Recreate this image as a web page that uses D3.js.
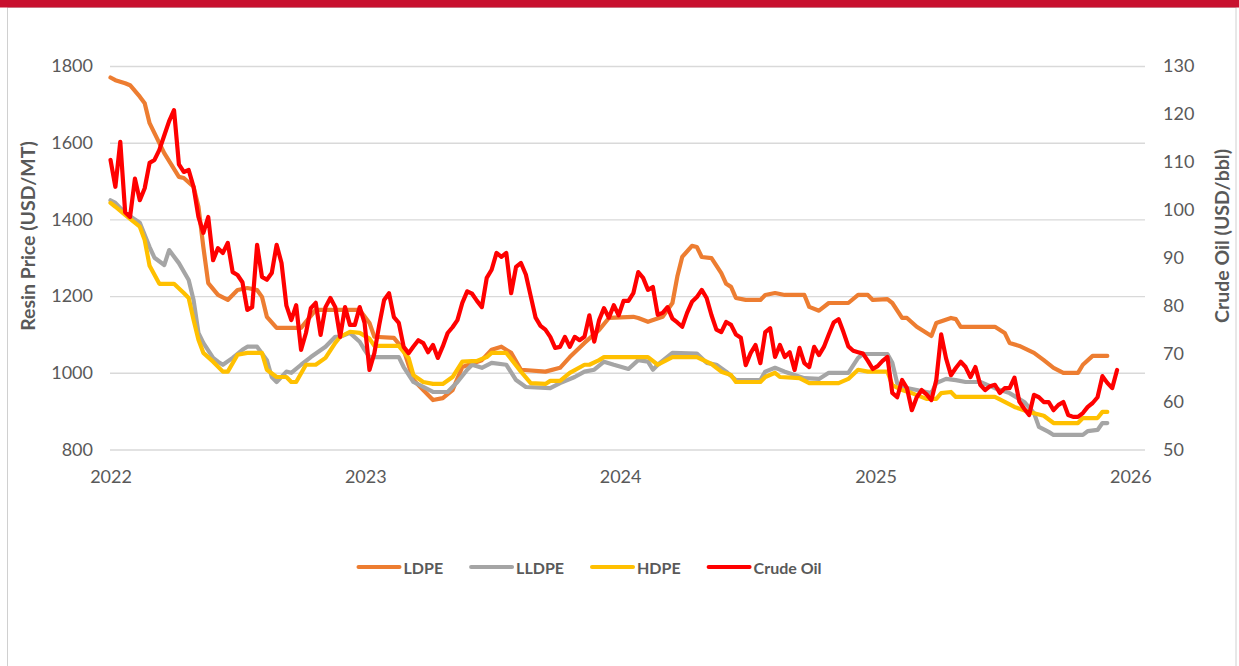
<!DOCTYPE html>
<html>
<head>
<meta charset="utf-8">
<script src="https://cdn.jsdelivr.net/npm/d3@7"></script>
<style>
    body { margin: 0; background: #fff; }
    svg { display: block; font-family: Lato, "Open Sans", sans-serif; }
</style>
</head>
<body>
<svg width="1239" height="666"></svg>
<script>
// weekly data, week 0 = first week of 2022
// resin prices (USD/MT) as [week, price]
var ldpe = [[0,1770],[1,1763],[2,1759],[3,1755],[4,1750],[6,1720],[7,1703],[8,1651],[9,1625],[11,1573],
    [14,1511],[15,1508],[17,1485],[18,1433],[19,1328],[20,1234],[22,1203],[24,1190],[26,1216],[28,1221],
    [30,1216],[31,1198],[32,1146],[34,1117],[39,1117],[42,1164],[47,1164],[51,1164],[53,1130],[54,1094],
    [58,1091],[60,1060],[62,981],[66,929],[68,934],[70,955],[72,1015],[76,1033],[78,1060],[80,1068],
    [82,1052],[84,1008],[89,1003],[92,1013],[94,1041],[97,1078],[100,1112],[102,1143],[107,1146],[108,1143],
    [110,1133],[113,1146],[115,1182],[116,1251],[117,1302],[119,1331],[120,1328],[121,1302],[123,1299],[125,1260],
    [126,1232],[127,1224],[128,1195],[130,1190],[133,1190],[134,1203],[136,1208],[138,1203],[142,1203],[143,1172],
    [145,1162],[147,1182],[151,1182],[153,1203],[155,1203],[156,1190],[159,1192],[160,1182],[162,1143],[163,1143],
    [165,1120],[168,1096],[169,1130],[172,1143],[173,1140],[174,1120],[181,1120],[183,1104],[184,1078],[186,1070],
    [189,1052],[191,1033],[193,1013],[195,1000],[198,1000],[199,1021],[201,1044],[204,1044]];

var lldpe = [[0,1450],[1,1443],[3,1417],[6,1391],[8,1328],[9,1300],[11,1281],[12,1320],[14,1286],[16,1242],
    [17,1190],[18,1104],[19,1078],[21,1039],[22,1029],[23,1021],[25,1039],[27,1060],[28,1068],[30,1068],
    [32,1033],[33,989],[34,976],[36,1003],[37,1000],[39,1021],[41,1041],[44,1068],[46,1094],[47,1094],
    [49,1104],[51,1081],[52,1060],[53,1041],[59,1041],[60,1015],[62,976],[64,963],[66,950],[69,950],
    [71,976],[73,1008],[74,1021],[76,1013],[78,1026],[81,1021],[83,981],[85,963],[90,960],[92,973],
    [95,989],[97,1003],[99,1008],[101,1029],[103,1021],[106,1010],[108,1033],[110,1029],[111,1008],[112,1021],
    [115,1052],[120,1050],[122,1026],[124,1021],[126,1003],[128,981],[133,981],[134,1003],[136,1013],[138,1003],
    [142,986],[145,984],[147,1000],[151,1000],[153,1039],[154,1049],[159,1049],[160,1026],[161,973],[163,960],
    [165,955],[168,947],[169,973],[171,984],[173,981],[175,976],[178,976],[181,960],[184,947],[187,924],
    [189,895],[190,859],[192,846],[193,838],[199,838],[200,848],[202,851],[203,869],[204,869]];

var hdpe = [[0,1443],[1,1433],[3,1412],[6,1381],[7,1346],[8,1279],[10,1232],[13,1232],[15,1208],[16,1195],
    [17,1138],[18,1086],[19,1052],[21,1029],[23,1003],[24,1003],[26,1047],[28,1052],[31,1052],[32,1008],
    [34,989],[36,989],[37,976],[38,976],[40,1021],[42,1021],[44,1039],[46,1078],[47,1094],[49,1107],
    [51,1104],[53,1089],[54,1070],[59,1070],[61,1039],[62,994],[64,976],[66,971],[68,971],[70,989],
    [72,1029],[75,1031],[77,1041],[78,1052],[81,1052],[84,1003],[86,973],[89,971],[90,979],[92,979],
    [94,1000],[97,1021],[98,1021],[100,1033],[101,1041],[110,1041],[112,1021],[115,1041],[120,1041],[123,1023],
    [125,1003],[127,994],[128,976],[133,976],[134,989],[136,1000],[137,989],[141,986],[143,973],[149,973],
    [151,984],[153,1008],[155,1003],[159,1003],[160,968],[162,955],[164,947],[167,932],[169,932],[170,947],
    [172,950],[173,937],[181,937],[183,924],[185,911],[188,898],[191,888],[193,869],[198,869],[199,882],
    [202,882],[203,898],[204,898]];

// crude oil (USD/bbl), one value per week from week 0
var crudeOil = [110.4,104.8,114.2,99.5,98.5,106.5,102.0,104.5,109.8,110.4,
    112.5,115.5,118.5,120.8,109.5,107.9,108.3,104.8,98.5,95.2,
    98.5,89.5,92.0,91.0,93.1,87.0,86.4,84.9,79.1,79.7,
    92.7,86.0,85.4,86.8,92.7,88.9,80.0,77.0,80.1,70.8,
    74.3,79.5,80.6,73.9,79.7,81.6,79.7,73.5,79.7,76.0,
    76.0,79.7,76.4,66.6,70.1,76.0,81.2,82.6,77.6,76.4,
    71.4,70.1,71.5,72.8,72.2,70.3,71.8,69.1,71.5,74.3,
    75.5,77.0,80.6,83.0,82.5,81.0,79.7,85.8,87.5,91.0,
    90.2,91.0,82.6,88.1,88.9,86.5,82.0,77.5,75.8,75.0,
    73.5,71.2,71.4,73.5,71.4,73.5,72.8,73.5,78.0,72.5,
    77.0,79.5,77.5,80.1,78.0,81.0,81.0,82.6,87.0,85.8,
    83.3,83.9,78.1,78.5,79.7,77.3,76.5,75.6,78.5,80.8,
    81.8,83.3,81.6,78.0,75.0,74.5,76.6,76.0,74.0,73.3,
    67.6,70.1,71.8,68.0,74.5,75.3,69.3,71.8,69.3,70.3,
    66.6,71.2,68.0,67.2,71.4,69.7,71.4,74.0,76.5,77.2,
    74.5,71.5,70.6,70.3,70.0,68.5,66.8,67.4,68.5,69.3,
    61.8,60.9,64.5,62.8,58.2,60.9,62.4,61.5,60.3,64.5,
    74.0,69.0,65.5,67.0,68.3,67.2,65.1,67.2,63.5,62.4,
    63.2,63.5,61.8,62.8,62.8,65.0,60.0,58.5,57.2,61.4,
    60.9,59.9,59.9,58.2,59.3,59.9,57.2,56.8,56.8,57.6,
    58.9,59.7,60.9,65.3,63.9,62.8,66.6];

var leftTicks = [800, 1000, 1200, 1400, 1600, 1800];
var rightTicks = [50, 60, 70, 80, 90, 100, 110, 120, 130];
var yearTicks = [2022, 2023, 2024, 2025, 2026];

var seriesNames = ["LDPE", "LLDPE", "HDPE", "Crude Oil"];
var seriesColors = ["#ED7D31", "#A5A5A5", "#FFC000", "#FF0000"];

var textColor = "#595959";
var start = new Date(2022, 0, 1);
function weekDate(w) { return d3.timeDay.offset(start, w * 7); }

var svg = d3.select("svg");

// frame + red header bar
svg.append("rect").attr("x", 7.5).attr("y", 7.5).attr("width", 1228.5).attr("height", 670)
    .attr("fill", "#fff").attr("stroke", "#d0d0d0").attr("stroke-width", 1);
svg.append("rect").attr("x", 0).attr("y", 0).attr("width", 1239).attr("height", 7.5)
    .attr("fill", "#C8102E");

var x = d3.scaleTime()
    .domain([start, new Date(2026, 0, 22)])
    .range([110.5, 1145]);
var yLeft = d3.scaleLinear().domain([800, 1800]).range([449.5, 66]);
var yRight = d3.scaleLinear().domain([50, 130]).range([449.5, 66]);

// left axis with gridlines
var gLeft = svg.append("g")
    .attr("transform", "translate(110,0)")
    .call(d3.axisLeft(yLeft).tickValues(leftTicks).tickFormat(d3.format("d"))
        .tickSize(-1035).tickPadding(17));
gLeft.select(".domain").remove();
gLeft.selectAll("line").attr("stroke", "#d9d9d9").attr("stroke-width", 1.4);

// right axis
var gRight = svg.append("g")
    .attr("transform", "translate(1145,0)")
    .call(d3.axisRight(yRight).tickValues(rightTicks).tickSize(0).tickPadding(18));
gRight.select(".domain").remove();

// x axis
var gBottom = svg.append("g")
    .attr("transform", "translate(0,449.5)")
    .call(d3.axisBottom(x)
        .tickValues(yearTicks.map(function (yr) { return new Date(yr, 0, 1); }))
        .tickFormat(d3.timeFormat("%Y"))
        .tickSize(0).tickPadding(21));
gBottom.select(".domain").remove();

svg.selectAll(".tick text")
    .attr("fill", textColor)
    .attr("font-size", "18px")
    .attr("font-family", "Lato, sans-serif");

// axis titles
svg.append("text")
    .attr("transform", "translate(27,236) rotate(-90)")
    .attr("text-anchor", "middle")
    .attr("dominant-baseline", "central")
    .attr("font-size", "19.5px").attr("font-weight", "bold")
    .attr("fill", textColor)
    .text("Resin Price (USD/MT)");
svg.append("text")
    .attr("transform", "translate(1221,236) rotate(-90)")
    .attr("text-anchor", "middle")
    .attr("dominant-baseline", "central")
    .attr("font-size", "19.5px").attr("font-weight", "bold")
    .attr("fill", textColor)
    .text("Crude Oil (USD/bbl)");

// lines
var resinLine = d3.line()
    .x(function (d) { return x(weekDate(d[0])); })
    .y(function (d) { return yLeft(d[1]); });
var oilLine = d3.line()
    .x(function (d, i) { return x(weekDate(i)); })
    .y(function (d) { return yRight(d); });

var plot = svg.append("g");
[ldpe, lldpe, hdpe].forEach(function (s, i) {
    plot.append("path")
        .datum(s)
        .attr("d", resinLine)
        .attr("fill", "none")
        .attr("stroke", seriesColors[i])
        .attr("stroke-width", 4.2)
        .attr("stroke-linejoin", "round")
        .attr("stroke-linecap", "round");
});
plot.append("path")
    .datum(crudeOil)
    .attr("d", oilLine)
    .attr("fill", "none")
    .attr("stroke", seriesColors[3])
    .attr("stroke-width", 4.2)
    .attr("stroke-linejoin", "round")
    .attr("stroke-linecap", "round");

// legend
var legend = svg.append("g").attr("transform", "translate(0,567)");
var items = legend.selectAll("g.item")
    .data(seriesNames)
    .enter()
    .append("g")
    .attr("class", "item");
items.append("line")
    .attr("x1", 0).attr("x2", 41).attr("y1", 0).attr("y2", 0)
    .attr("stroke", function (d, i) { return seriesColors[i]; })
    .attr("stroke-width", 4)
    .attr("stroke-linecap", "round");
items.append("text")
    .attr("x", 45)
    .attr("dominant-baseline", "central")
    .attr("font-size", "16px").attr("font-weight", "bold")
    .attr("fill", textColor)
    .text(function (d) { return d; });

var widths = [];
items.each(function () {
    widths.push(45 + d3.select(this).select("text").node().getComputedTextLength());
});
var total = d3.sum(widths) + 28 * (widths.length - 1);
var cx = 590 - total / 2;
items.attr("transform", function (d, i) {
    var pos = cx;
    cx += widths[i] + 28;
    return "translate(" + pos + ",0)";
});
</script>
</body>
</html>
